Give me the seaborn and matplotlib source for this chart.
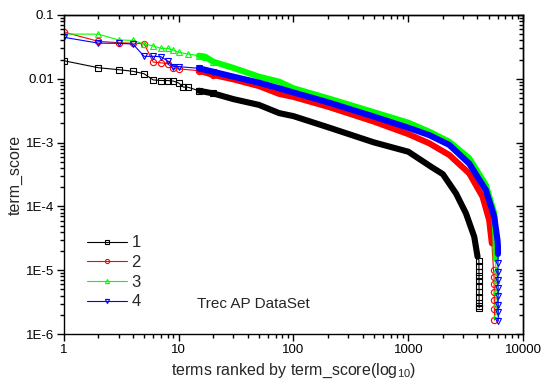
import numpy as np
import pandas as pd
import seaborn as sns
import matplotlib
matplotlib.use('Agg')
import matplotlib.pyplot as plt
from matplotlib.lines import Line2D
from matplotlib.ticker import LogLocator, NullFormatter

# values (rank, term_score)
rank_1 = [1, 2, 3, 4, 5, 6, 7, 8, 9, 10, 11, 12, 15, 20, 30, 50, 75, 100, 200, 500,
          1000, 1575, 2000, 2600, 3176, 3750, 4008,
          4120, 4122, 4124, 4126, 4128, 4130, 4132, 4134, 4136, 4138, 4140]
score_1 = [0.0192, 0.0149, 0.0139, 0.0131, 0.0120, 0.0096, 0.0094, 0.0094, 0.0092, 0.0086,
           0.0074, 0.0074, 0.0065, 0.0059, 0.0048, 0.0039, 0.0029, 0.0026, 0.00174, 0.00101,
           7.2e-4, 4.2e-4, 3.2e-4, 1.6e-4, 7.8e-5, 3.35e-5, 1.63e-5,
           1.42e-5, 1.15e-5, 9.5e-6, 8.0e-6, 6.8e-6, 5.6e-6, 4.6e-6, 3.8e-6, 3.1e-6, 2.8e-6, 2.57e-6]

rank_2 = [1, 2, 3, 4, 5, 6, 7, 8, 9, 10, 15, 20, 30, 50, 75, 100, 200, 500,
          1000, 1523, 2274, 3390, 4430, 5060, 5340, 5520,
          5580, 5590, 5600, 5610, 5620, 5630]
score_2 = [0.054, 0.0386, 0.0368, 0.036, 0.0355, 0.0183, 0.0178, 0.0172, 0.0145, 0.0143,
           0.0134, 0.0115, 0.0098, 0.0077, 0.0058, 0.0052, 0.00365, 0.00214,
           0.00136, 9.75e-4, 6.4e-4, 3.3e-4, 1.42e-4, 6.1e-5, 2.64e-5, 1.0e-5,
           7.9e-6, 6.2e-6, 4.6e-6, 3.4e-6, 2.5e-6, 1.66e-6]

rank_3 = [1, 2, 3, 4, 5, 6, 7, 8, 9, 10, 12, 15, 17, 20, 30, 50, 75, 100, 200, 500,
          1000, 1523, 2274, 3390, 4740, 5600, 5750,
          5770, 5775, 5780, 5785, 5790, 5795, 5800]
score_3 = [0.0503, 0.050, 0.0406, 0.040, 0.0351, 0.0327, 0.0300, 0.0300, 0.0283, 0.026,
           0.0245, 0.0230, 0.0222, 0.0185, 0.0148, 0.0108, 0.0090, 0.0071, 0.00494, 0.0030,
           0.00205, 1.48e-3, 1.03e-3, 5.7e-4, 2.16e-4, 7.8e-5, 3.0e-5,
           2.2e-5, 1.5e-5, 1.0e-5, 7.0e-6, 4.8e-6, 3.0e-6, 2.0e-6]

rank_4 = [1, 2, 3, 4, 5, 6, 7, 8, 9, 10, 15, 20, 30, 50, 75, 100, 200, 500,
          1000, 1523, 2274, 3390, 4740, 5600, 5980,
          6030, 6035, 6040, 6045, 6050, 6055, 6060, 6065, 6070, 6075]
score_4 = [0.0447, 0.0362, 0.036, 0.035, 0.0225, 0.0225, 0.0222, 0.019, 0.0155, 0.0155,
           0.0146, 0.0129, 0.0108, 0.0087, 0.0071, 0.0061, 0.00428, 0.00256,
           0.00171, 1.31e-3, 9.2e-4, 4.7e-4, 1.8e-4, 6.9e-5, 2.97e-5,
           2.4e-5, 1.8e-5, 1.3e-5, 9.5e-6, 7.0e-6, 5.2e-6, 3.9e-6, 2.9e-6, 2.2e-6, 1.6e-6]

labels = ['1', '2', '3', '4']
colors = ['#000000', '#ff0000', '#00ff00', '#0000ff']
markers = ['s', 'o', '^', 'v']

x_ticks = [1, 10, 100, 1000, 10000]
x_tick_labels = ['1', '10', '100', '1000', '10000']
y_ticks = [1e-1, 1e-2, 1e-3, 1e-4, 1e-5, 1e-6]
y_tick_labels = ['0.1', '0.01', '1E-3', '1E-4', '1E-5', '1E-6']

sns.set_style('ticks')
plt.rcParams['font.family'] = ['Liberation Sans', 'DejaVu Sans']
plt.rcParams['mathtext.fontset'] = 'custom'
plt.rcParams['mathtext.rm'] = 'Liberation Sans'
plt.rcParams['mathtext.default'] = 'rm'
plt.rcParams['axes.edgecolor'] = 'black'
plt.rcParams['axes.linewidth'] = 1.0
plt.rcParams['xtick.color'] = 'black'
plt.rcParams['ytick.color'] = 'black'

fig = plt.figure(figsize=(5.41, 3.84), dpi=100)
ax = fig.add_axes([0.118, 0.130, 0.849, 0.831])
ax.set_xscale('log')
ax.set_yscale('log')

series = [(rank_1, score_1), (rank_2, score_2), (rank_3, score_3), (rank_4, score_4)]
for (r, s), lab, c, m in zip(series, labels, colors, markers):
    df = pd.DataFrame({'rank': r, 'score': s})
    # separate markers only where the points do not merge
    show = list((df['rank'] <= 20) | (df['score'] < 1.5e-5))
    sns.lineplot(data=df, x='rank', y='score', estimator=None, sort=False, ax=ax,
                 color=c, lw=0.8, marker=m, markersize=4.5, markerfacecolor='none',
                 markeredgecolor=c, markeredgewidth=0.8, markevery=show, legend=False)
    # the dense middle part, where the markers merge into a solid band
    band = df[(df['rank'] >= 15) & (df['score'] >= 1.5e-5)]
    ax.plot(band['rank'], band['score'], color=c, lw=4.4, solid_capstyle='round')

ax.set_xlim(1, 10000)
ax.set_ylim(1e-6, 1e-1)
ax.set_xticks(x_ticks, x_tick_labels)
ax.set_yticks(y_ticks, y_tick_labels)
ax.xaxis.set_minor_locator(LogLocator(base=10, subs=np.arange(2, 10), numticks=100))
ax.yaxis.set_minor_locator(LogLocator(base=10, subs=np.arange(2, 10), numticks=100))
ax.xaxis.set_minor_formatter(NullFormatter())
ax.yaxis.set_minor_formatter(NullFormatter())
ax.tick_params(which='both', direction='out', top=False, right=False, labelsize=9.5, width=1.0)
ax.tick_params(which='major', length=5, pad=2)
ax.tick_params(which='minor', length=3)

# mirrored ticks pointing inwards on top and right
top = ax.secondary_xaxis('top')
top.xaxis.set_major_locator(LogLocator(base=10, numticks=100))
top.xaxis.set_minor_locator(LogLocator(base=10, subs=np.arange(2, 10), numticks=100))
top.tick_params(which='both', direction='in', labeltop=False, width=1.0)
top.tick_params(which='major', length=5)
top.tick_params(which='minor', length=3)
right = ax.secondary_yaxis('right')
right.yaxis.set_major_locator(LogLocator(base=10, numticks=100))
right.yaxis.set_minor_locator(LogLocator(base=10, subs=np.arange(2, 10), numticks=100))
right.tick_params(which='both', direction='in', labelright=False, width=1.0)
right.tick_params(which='major', length=5)
right.tick_params(which='minor', length=3)

ax.set_xlabel('terms ranked by term_score(log$_{10}$)', fontsize=11.5, labelpad=4)
ax.set_ylabel('term_score', fontsize=11.5, labelpad=2)

handles = [Line2D([], [], color=c, lw=0.8, marker=m, markersize=3, markerfacecolor='none',
                  markeredgecolor=c, markeredgewidth=0.8) for c, m in zip(colors, markers)]
ax.legend(handles, labels, loc='upper left', bbox_to_anchor=(0.035, 0.33), frameon=False,
          fontsize=12, handlelength=2.4, handletextpad=0.3, labelspacing=0.28, borderaxespad=0)

ax.text(0.29, 0.094, 'Trec AP DataSet', transform=ax.transAxes, fontsize=11, va='center')

fig.savefig('out.png', dpi=100)
